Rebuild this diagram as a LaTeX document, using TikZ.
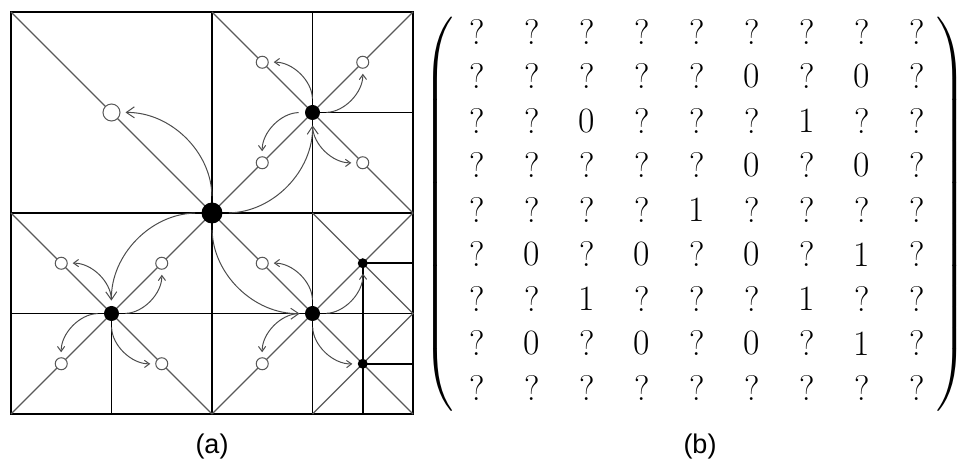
\documentclass[tikz,border=0pt]{standalone}
\usepackage{amsmath}
\usepackage{fontspec}
\newfontfamily\capfont{Liberation Sans}
\usetikzlibrary{arrows.meta, matrix}

\tikzset{
  grid line/.style={line width=0.9pt, draw=black},
  diag/.style={line width=0.55pt, draw=black!65},
  bigdot/.style={circle, fill=black, inner sep=0pt, minimum size=10.5pt},
  middot/.style={circle, fill=black, inner sep=0pt, minimum size=7.5pt},
  smalldot/.style={circle, fill=black, inner sep=0pt, minimum size=5pt},
  bigring/.style={circle, draw=black!65, fill=white, line width=0.5pt, inner sep=0pt, minimum size=8.5pt},
  ring/.style={circle, draw=black!65, fill=white, line width=0.5pt, inner sep=0pt, minimum size=6pt},
  flow/.style={-{Straight Barb[length=2.5pt,width=3.6pt]}, draw=black!70, line width=0.5pt, shorten <=3pt, shorten >=2.5pt},
  bigflow/.style={flow, -{Straight Barb[length=4pt,width=5.5pt]}},
  cell/.style={anchor=center, minimum width=27.5pt, minimum height=22.25pt, inner sep=0pt, font=\fontsize{17.8}{20}\selectfont}
}

\begin{document}
\begin{tikzpicture}[x=0.5pt, y=0.5pt]
    \useasboundingbox (0,0) rectangle (960,466);

    % (a) subdivided square
    \begin{scope}[shift={(11,52)}, x=25.125pt, y=25.125pt]
        % Cells
        \draw[grid line] (0,0) rectangle (8,8);
        \draw[grid line] (4,0) -- (4,8) (0,4) -- (8,4);
        \draw[grid line] (6,0) -- (6,8) (0,2) -- (8,2);
        \draw[grid line] (6,6) -- (8,6) (2,0) -- (2,2);
        \draw[grid line] (7,0) -- (7,3) (7,3) -- (8,3) (7,1) -- (8,1);

        % Diagonals
        \draw[diag] (0,0) -- (8,8) (0,8) -- (8,0);
        \draw[diag] (4,8) -- (8,4) (0,4) -- (4,0) (4,0) -- (8,4);
        \draw[diag] (6,4) -- (8,2) -- (6,0);

        % Vertices
        \node[bigdot] (root) at (4,4) {};
        \node[bigring] (tl) at (2,6) {};
        \node[middot] (tr) at (6,6) {};
        \node[middot] (bl) at (2,2) {};
        \node[middot] (br) at (6,2) {};
        \foreach \n/\x/\y in {tr/6/6, bl/2/2} {
            \node[ring] (\n-a) at (\x-1,\y+1) {};
            \node[ring] (\n-b) at (\x+1,\y+1) {};
            \node[ring] (\n-c) at (\x-1,\y-1) {};
            \node[ring] (\n-d) at (\x+1,\y-1) {};
        }
        \node[ring] (br-a) at (5,3) {};
        \node[smalldot] (br-b) at (7,3) {};
        \node[ring] (br-c) at (5,1) {};
        \node[smalldot] (br-d) at (7,1) {};

        % Arrows
        \foreach \k in {tl,tr,bl,br}
            \draw[bigflow] (root) to[bend right=45] (\k);
        \foreach \p in {tr,bl,br}
            \foreach \c in {a,b,c,d}
                \draw[flow] (\p) to[bend right=45] (\p-\c);
    \end{scope}

    % (b) matrix
    \matrix (vals) [matrix of nodes, nodes={cell}, inner sep=0pt,
        column sep=0pt, row sep=0pt] at (697,256) {
        ? & ? & ? & ? & ? & ? & ? & ? & ? \\
        ? & ? & ? & ? & ? & 0 & ? & 0 & ? \\
        ? & ? & 0 & ? & ? & ? & 1 & ? & ? \\
        ? & ? & ? & ? & ? & 0 & ? & 0 & ? \\
        ? & ? & ? & ? & 1 & ? & ? & ? & ? \\
        ? & 0 & ? & 0 & ? & 0 & ? & 1 & ? \\
        ? & ? & 1 & ? & ? & ? & 1 & ? & ? \\
        ? & 0 & ? & 0 & ? & 0 & ? & 1 & ? \\
        ? & ? & ? & ? & ? & ? & ? & ? & ? \\
    };
    \node[inner sep=0pt] (lparen) at (440,252)
        {\fontsize{17.8}{20}\selectfont$\left(\vcenter{\hrule height 194pt width 0pt}\right.$};
    \node[inner sep=0pt] (rparen) at (950,252)
        {\fontsize{17.8}{20}\selectfont$\left.\vcenter{\hrule height 194pt width 0pt}\right)$};

    % Captions
    \node[font=\capfont\fontsize{13.5}{16}\selectfont] (capa) at (212,19) {(a)};
    \node[font=\capfont\fontsize{13.5}{16}\selectfont] (capb) at (700,19) {(b)};
\end{tikzpicture}
\end{document}
